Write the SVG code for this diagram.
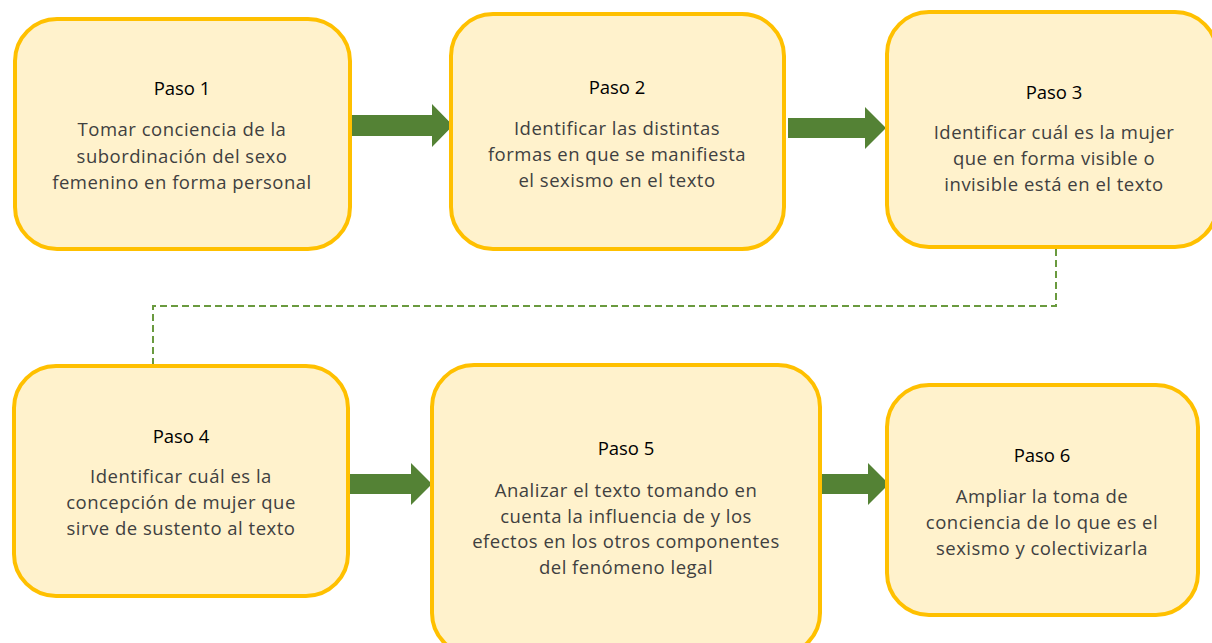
<svg xmlns="http://www.w3.org/2000/svg" width="1212" height="643" viewBox="0 0 1212 643">
<style>
.box{fill:#FFF2CC;stroke:#FFC000;stroke-width:4}
.t{font-family:"Open Sans","Liberation Sans",sans-serif;font-size:18.5px;fill:#000;text-anchor:middle;font-weight:500}
.b{font-family:"Open Sans","Liberation Sans",sans-serif;font-size:18.5px;letter-spacing:0.5px;fill:#404040;text-anchor:middle}
.arr{fill:#548235}
.dash{fill:none;stroke:#6A9A3F;stroke-width:2;stroke-dasharray:7 4}
</style>
<rect width="1212" height="643" fill="#fff"/>
<g id="connectors">
<polygon class="arr" points="352,115 432,115 432,104 453,125.5 432,147 432,136 352,136"/>
<polygon class="arr" points="788,118 865,118 865,107 886,128 865,149 865,138 788,138"/>
<polygon class="arr" points="350,474 411,474 411,463 432,484 411,505 411,494 350,494"/>
<polygon class="arr" points="822,474 868,474 868,463 889,484 868,505 868,494 822,494"/>
<polyline class="dash" points="1056,249 1056,306 153,306 153,365"/>
</g>
<g id="paso1">
<rect class="box" x="15" y="19" width="335" height="230" rx="42"/>
<text class="t" x="182" y="95">Paso 1</text>
<text class="b" x="182" y="136">Tomar conciencia de la</text>
<text class="b" x="182" y="163">subordinación del sexo</text>
<text class="b" x="182" y="189">femenino en forma personal</text>
</g>
<g id="paso2">
<rect class="box" x="451" y="14" width="333" height="235" rx="42"/>
<text class="t" x="617" y="94">Paso 2</text>
<text class="b" x="617" y="135">Identificar las distintas</text>
<text class="b" x="617" y="161">formas en que se manifiesta</text>
<text class="b" x="617" y="187">el sexismo en el texto</text>
</g>
<g id="paso3">
<rect class="box" x="887" y="12" width="330" height="235" rx="42"/>
<text class="t" x="1054" y="99">Paso 3</text>
<text class="b" x="1054" y="139">Identificar cuál es la mujer</text>
<text class="b" x="1054" y="165">que en forma visible o</text>
<text class="b" x="1054" y="191">invisible está en el texto</text>
</g>
<g id="paso4">
<rect class="box" x="14" y="366" width="334" height="230" rx="42"/>
<text class="t" x="181" y="443">Paso 4</text>
<text class="b" x="181" y="483">Identificar cuál es la</text>
<text class="b" x="181" y="509">concepción de mujer que</text>
<text class="b" x="181" y="535">sirve de sustento al texto</text>
</g>
<g id="paso5">
<rect class="box" x="432" y="365" width="388" height="290" rx="42"/>
<text class="t" x="626" y="455">Paso 5</text>
<text class="b" x="626" y="497">Analizar el texto tomando en</text>
<text class="b" x="626" y="523">cuenta la influencia de y los</text>
<text class="b" x="626" y="548">efectos en los otros componentes</text>
<text class="b" x="626" y="574">del fenómeno legal</text>
</g>
<g id="paso6">
<rect class="box" x="887" y="385" width="311" height="230" rx="42"/>
<text class="t" x="1042" y="462">Paso 6</text>
<text class="b" x="1042" y="503">Ampliar la toma de</text>
<text class="b" x="1042" y="529">conciencia de lo que es el</text>
<text class="b" x="1042" y="555">sexismo y colectivizarla</text>
</g>
</svg>
